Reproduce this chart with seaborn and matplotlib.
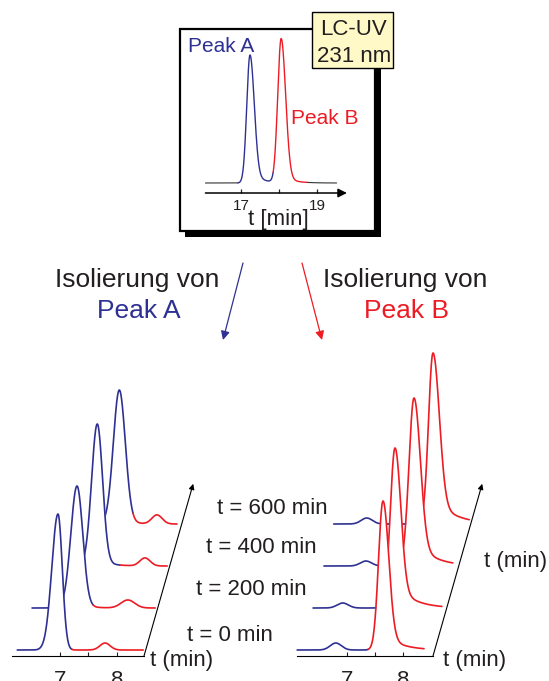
import numpy as np
import matplotlib
matplotlib.use("Agg")
import matplotlib.pyplot as plt
import seaborn as sns
from matplotlib.patches import Rectangle, FancyArrowPatch
from matplotlib.transforms import Affine2D, ScaledTranslation

W, H = 549, 681
BLUE = "#2e3192"
RED = "#ed1c24"
INK = "#231f20"

# ---------------- data ----------------
# overview chromatogram, LC-UV 231 nm (t in min, signal in px-like units)
ov_range = [16.07, 19.50]
ov_colour_switch = [16.92, 17.84, 18.75]   # black | Peak A | Peak B | black
ov_rt = [17.235, 18.05]
ov_height = [128, 144]
ov_sig_l = [0.085, 0.09]
ov_sig_r = [0.11, 0.115]
ov_tail = [0.10, 0.06]
ov_ticks = [17, 18, 19]
ov_ticklabels = ["17", "", "19"]

# re-injection of the isolated fractions after storage
run_times = [0, 200, 400, 600]   # min

# isolated Peak A
a_start = [6.25, 6.30, 6.98, 6.98]
a_end = [8.46, 8.46, 8.46, 8.42]
a_switch = [7.21, 7.37, 7.63, 7.65]
a_rt = [6.965, 7.088, 7.233, 7.409]
a_height = [136, 122, 142, 134]
a_sig_l = [0.109, 0.109, 0.100, 0.105]
a_sig_r = [0.075, 0.100, 0.092, 0.105]
a_tail = [0.0, 0.03, 0.05, 0.03]
a_tau = [0.2, 0.2, 0.2, 0.2]
a_imp_rt = [7.79, 7.98, 8.07, 8.07]
a_imp_height = [7, 8, 8, 9]
a_imp_sig = [0.09, 0.12, 0.09, 0.09]

# isolated Peak B
b_start = [6.11, 6.18, 6.16, 6.12]
b_end = [8.375, 8.48, 8.46, 8.54]
b_switch = [7.38, 7.42, 7.50, 7.55]
b_rt = [7.643, 7.643, 7.768, 7.893]
b_height = [149, 160, 168, 171]
b_sig_l = [0.08, 0.085, 0.09, 0.08]
b_sig_r = [0.10, 0.10, 0.11, 0.11]
b_tail = [0.12, 0.16, 0.16, 0.16]
b_tau = [0.28, 0.30, 0.32, 0.35]
b_imp_rt = [6.80, 6.71, 6.91, 6.71]
b_imp_height = [7, 5, 5, 6]
b_imp_sig = [0.10, 0.10, 0.10, 0.10]

wf_ticks = [7, 7.5, 8]
wf_ticklabels = ["7", "", "8"]


def peak(t, rt, h, sl, sr, tail=0.0, tau=0.25):
    d = t - rt
    y = h * np.exp(-0.5 * (d / np.where(d < 0, sl, sr)) ** 2)
    pos = np.clip(d, 0, None)
    y += h * tail * np.exp(-pos / tau) * (1 - np.exp(-0.5 * (pos / sr) ** 2))
    return y


sns.set_theme(style="white")
plt.rcParams["font.family"] = ["Liberation Sans", "DejaVu Sans"]

fig = plt.figure(figsize=(W / 100, H / 100), dpi=100)
fig.patch.set_facecolor("white")
PX = Affine2D().scale(1, -1).translate(0, H)   # pixel coords, y down


def ax_px(x0, x1, y_top, y_bottom):
    ax = fig.add_axes([x0 / W, 1 - y_bottom / H, (x1 - x0) / W, (y_bottom - y_top) / H])
    ax.set_facecolor("none")
    return ax


def label(x, y, s, **kw):
    kw.setdefault("color", INK)
    fig.text(x, y, s, transform=PX, **kw)


############### OVERVIEW (top box) ###############
fig.add_artist(Rectangle((185, 34), 196, 203, transform=PX, fc="black", ec="none", zorder=-2))
fig.add_artist(Rectangle((180, 29), 195, 202, transform=PX, fc="white", ec="black", lw=1.6, zorder=-1))
fig.add_artist(Rectangle((312, 12), 81, 56, transform=PX, fc="#fef9c6", ec="black", lw=1.0, zorder=5))
label(354, 35, "LC-UV", ha="center", va="baseline", fontsize=16, zorder=6)
label(354, 62, "231 nm", ha="center", va="baseline", fontsize=16, zorder=6)

ax0 = ax_px(200, 350, 30, 193)
t = np.union1d(np.linspace(*ov_range, 800), ov_colour_switch)
y = 10 + sum(peak(t, ov_rt[i], ov_height[i], ov_sig_l[i], ov_sig_r[i], ov_tail[i])
             for i in range(len(ov_rt)))
edges = [ov_range[0]] + ov_colour_switch + [ov_range[1]]
for lo, hi, col in zip(edges[:-1], edges[1:], ["#333333", BLUE, RED, "#333333"]):
    m = (t >= lo) & (t <= hi)
    sns.lineplot(x=t[m], y=y[m], ax=ax0, color=col, lw=1.0 if col in (BLUE, RED) else 0.8,
                 sort=False, estimator=None)
ax0.set_xlim(15.928, 19.850)
ax0.set_ylim(0, 163)
for s in ax0.spines.values():
    s.set_visible(False)
ax0.set_yticks([])
ax0.set_xticks(ov_ticks, ov_ticklabels)
ax0.tick_params(axis="x", bottom=True, direction="in", length=3, width=0.9,
                pad=4.3, labelsize=11, colors=INK)
ax0.annotate("", xy=(19.77, 0), xytext=(16.07, 0),
             arrowprops=dict(arrowstyle="-|>", color="black", lw=1.1,
                             mutation_scale=13, shrinkA=0, shrinkB=0),
             annotation_clip=False)
ax0.set_xlabel("")
ax0.set_ylabel("")
label(221, 52, "Peak A", ha="center", va="baseline", fontsize=15, color=BLUE)
label(325, 124, "Peak B", ha="center", va="baseline", fontsize=15, color=RED)
label(278, 225, "t [min]", ha="center", va="baseline", fontsize=16)

############### ISOLATION ARROWS ###############
label(137, 287, "Isolierung von", ha="center", va="baseline", fontsize=19)
label(139, 318, "Peak A", ha="center", va="baseline", fontsize=19, color=BLUE)
label(405, 287, "Isolierung von", ha="center", va="baseline", fontsize=19)
label(406, 318, "Peak B", ha="center", va="baseline", fontsize=19, color=RED)
for (p0, p1), col in [(((243, 263), (223, 340)), BLUE), (((302, 263), (322, 340)), RED)]:
    fig.add_artist(FancyArrowPatch(p0, p1, transform=PX, arrowstyle="-|>", mutation_scale=13,
                                   lw=0.9, color=col, shrinkA=0, shrinkB=0))

############### WATERFALLS ###############
STEP_IN = (0.12, 0.42)   # depth direction, inches per 200 min
DEPTH_MAX = 820
BASE = 6


def depth(ax, run):
    return ax.transData + ScaledTranslation(run / 200 * STEP_IN[0], run / 200 * STEP_IN[1],
                                            fig.dpi_scale_trans)


def waterfall(ax, start, end, switch, rt, h, sl, sr, tail, tau, irt, ih, isig):
    order = list(range(len(run_times)))[::-1]
    for r, k in enumerate(order):
        tr = depth(ax, run_times[k])
        t = np.union1d(np.linspace(start[k], end[k], 600), [switch[k]])
        y = BASE + peak(t, rt[k], h[k], sl[k], sr[k], tail[k], tau[k]) \
            + peak(t, irt[k], ih[k], isig[k], isig[k])
        ax.fill_between(t, BASE, y, color="white", lw=0, transform=tr, clip_on=False,
                        zorder=2 + 2 * r)
        for m, col in [(t <= switch[k], BLUE), (t >= switch[k], RED)]:
            sns.lineplot(x=t[m], y=y[m], ax=ax, color=col, lw=1.2, transform=tr,
                         clip_on=False, zorder=3 + 2 * r, sort=False, estimator=None)


ax1 = ax_px(12, 144, 336, 656)
waterfall(ax1, a_start, a_end, a_switch, a_rt, a_height, a_sig_l, a_sig_r, a_tail, a_tau,
          a_imp_rt, a_imp_height, a_imp_sig)
ax2 = ax_px(297, 433, 336, 656)
waterfall(ax2, b_start, b_end, b_switch, b_rt, b_height, b_sig_l, b_sig_r, b_tail, b_tau,
          b_imp_rt, b_imp_height, b_imp_sig)

for ax, xlim in ((ax1, (6.158, 8.474)), (ax2, (6.107, 8.536))):
    ax.set_xlim(*xlim)
    ax.set_ylim(0, 320)
    for s in ("left", "top", "right"):
        ax.spines[s].set_visible(False)
    ax.spines["bottom"].set_color("black")
    ax.spines["bottom"].set_linewidth(0.8)
    ax.spines["bottom"].set_zorder(20)
    ax.set_yticks([])
    ax.set_xticks(wf_ticks, wf_ticklabels)
    ax.tick_params(axis="x", bottom=True, direction="in", length=3, width=0.8,
                   pad=10, labelsize=16, colors=INK)
    ax.set_xlabel("")
    ax.set_ylabel("")
    ax.annotate("", xy=(xlim[1], 0), xycoords=depth(ax, DEPTH_MAX),
                xytext=(xlim[1], 0), textcoords="data",
                arrowprops=dict(arrowstyle="-|>", color="black", lw=0.8,
                                mutation_scale=8, shrinkA=0, shrinkB=0),
                annotation_clip=False, zorder=30)

for run, x, yb in zip(run_times, [273, 307, 317, 328], [641, 595, 553, 514]):
    label(x, yb, f"t = {run} min", ha="right", va="baseline", fontsize=16)
label(150, 666, "t (min)", ha="left", va="baseline", fontsize=16)
label(443, 666, "t (min)", ha="left", va="baseline", fontsize=16)
label(484, 567, "t (min)", ha="left", va="baseline", fontsize=16)

fig.savefig("out.png", dpi=100, facecolor="white")
